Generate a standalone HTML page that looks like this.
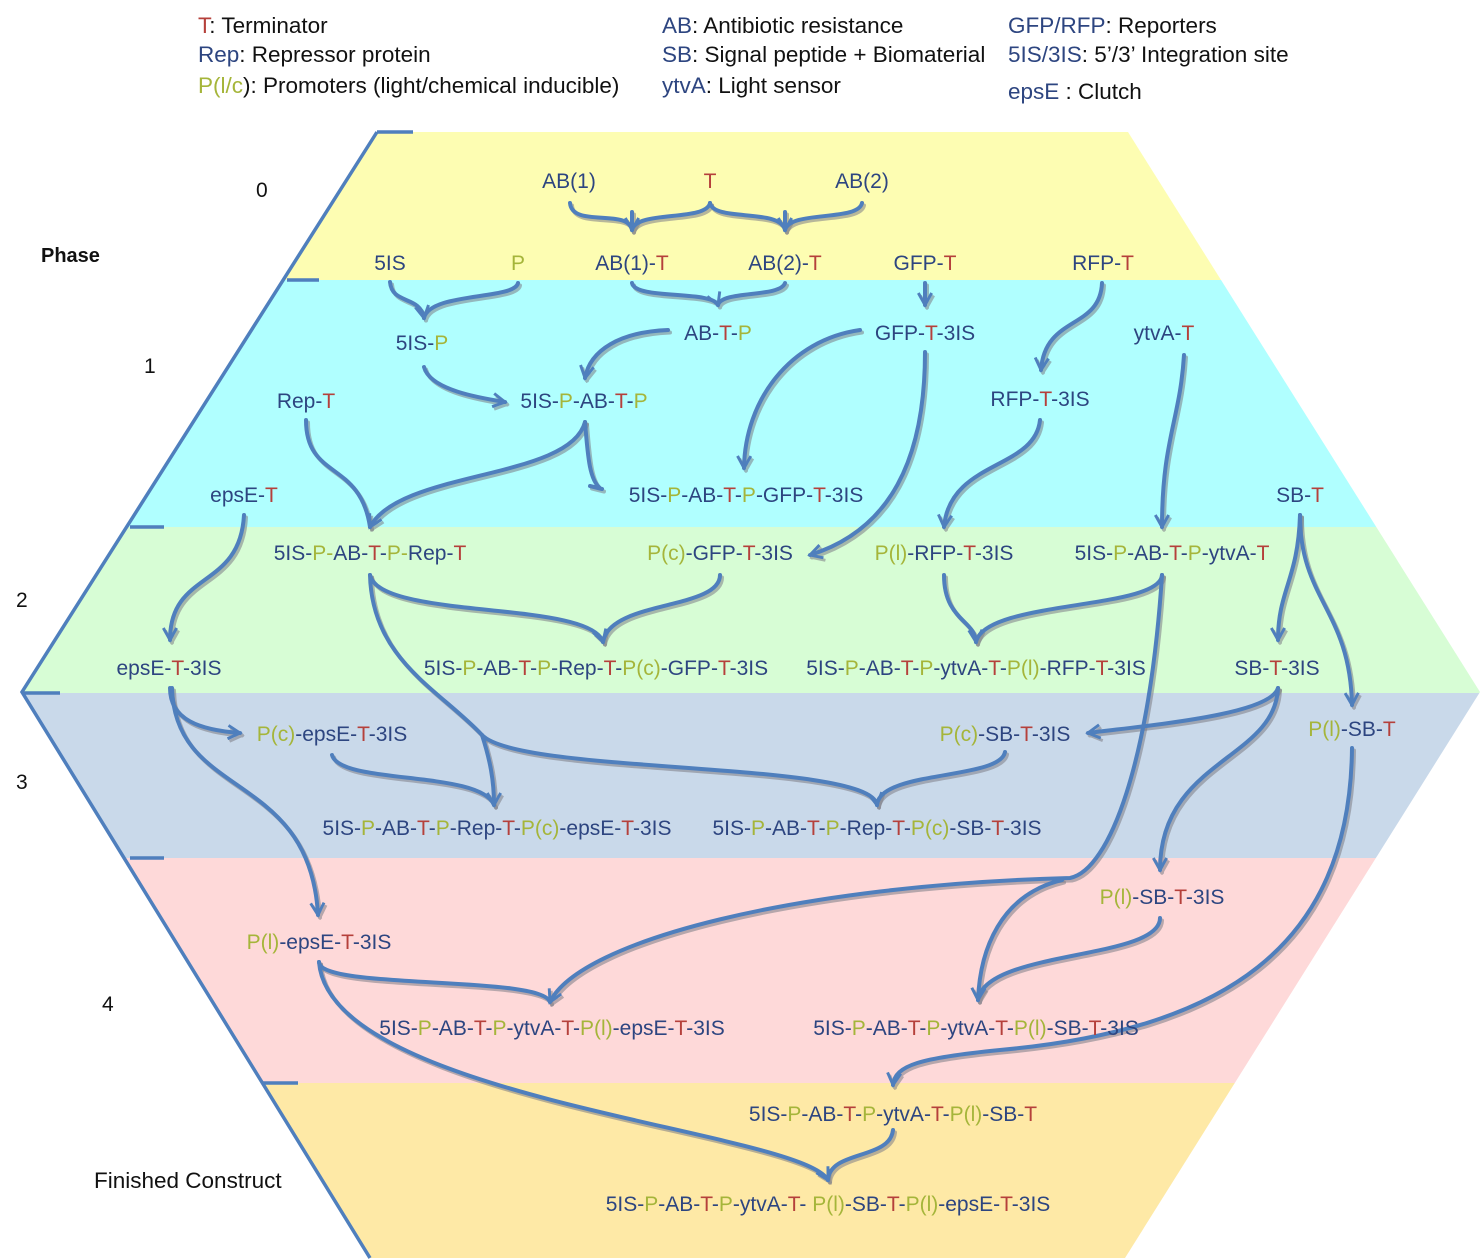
<!DOCTYPE html>
<html><head><meta charset="utf-8"><style>
html,body{margin:0;padding:0;background:#fff;}
svg{display:block;}
text{font-family:"Liberation Sans",sans-serif;font-size:21px;fill:#2d4580;}
.r{fill:#b5403b}.g{fill:#a5b53a}.k{fill:#111}
.lg text{font-size:22.5px}
.a{fill:none;stroke:#4f7fbd;stroke-width:4;stroke-linecap:round}
.s{fill:none;stroke:#7d7d86;stroke-width:4;stroke-linecap:round;opacity:.55}
</style></head><body>
<svg width="1482" height="1260" viewBox="0 0 1482 1260" xmlns="http://www.w3.org/2000/svg">
<defs>
<marker id="m" viewBox="0 0 12 12" refX="10" refY="6" markerWidth="4" markerHeight="4" orient="auto" markerUnits="strokeWidth">
<path d="M1,1 L10,6 L1,11" fill="none" stroke="#4f7fbd" stroke-width="2.2"/></marker>
<marker id="ms" viewBox="0 0 12 12" refX="10" refY="6" markerWidth="4" markerHeight="4" orient="auto" markerUnits="strokeWidth">
<path d="M1,1 L10,6 L1,11" fill="none" stroke="#7d7d86" stroke-width="2.2"/></marker>
<clipPath id="hex"><polygon points="377,132 1128,132 1480,692 1125,1258 370,1258 22,692"/></clipPath>
</defs>
<g clip-path="url(#hex)">
<rect x="0" y="132" width="1482" height="148" fill="#fdfdb2"/>
<rect x="0" y="280" width="1482" height="247" fill="#b0ffff"/>
<rect x="0" y="527" width="1482" height="166" fill="#d7fdd5"/>
<rect x="0" y="693" width="1482" height="165" fill="#c9d9ea"/>
<rect x="0" y="858" width="1482" height="225" fill="#fed9d9"/>
<rect x="0" y="1083" width="1482" height="177" fill="#fee9a6"/>
</g>
<g stroke="#4f7fbd" stroke-width="3.5" fill="none">
<polyline points="377,132 22,692 370,1258"/>
<line x1="377" y1="132" x2="413" y2="132"/>
<line x1="287" y1="280" x2="319" y2="280"/>
<line x1="130" y1="527" x2="164" y2="527"/>
<line x1="22" y1="693" x2="60" y2="693"/>
<line x1="130" y1="858" x2="164" y2="858"/>
<line x1="262" y1="1083" x2="298" y2="1083"/>
</g>

<g class="lg">
<text x="198" y="33"><tspan class="r">T</tspan><tspan class="k">: Terminator</tspan></text>
<text x="198" y="62">Rep<tspan class="k">: Repressor protein</tspan></text>
<text x="198" y="93"><tspan class="g">P(</tspan><tspan class="g">l/c</tspan><tspan class="k">): Promoters (light/chemical inducible)</tspan></text>
<text x="662" y="33">AB<tspan class="k">: Antibiotic resistance</tspan></text>
<text x="662" y="62">SB<tspan class="k">: Signal peptide + Biomaterial</tspan></text>
<text x="662" y="93">ytvA<tspan class="k">: Light sensor</tspan></text>
<text x="1008" y="33">GFP/RFP<tspan class="k">: Reporters</tspan></text>
<text x="1008" y="62">5IS/3IS<tspan class="k">: 5’/3’ Integration site</tspan></text>
<text x="1008" y="99">epsE <tspan class="k">: Clutch</tspan></text>
</g>

<g>
<text x="256" y="197" class="k" style="font-size:21px">0</text>
<text x="41" y="262" class="k" style="font-weight:bold;font-size:20px">Phase</text>
<text x="144" y="373" class="k">1</text>
<text x="16" y="607" class="k">2</text>
<text x="16" y="789" class="k">3</text>
<text x="102" y="1011" class="k">4</text>
<text x="94" y="1188" class="k" style="font-size:22.5px">Finished Construct</text>
</g>

<g transform="translate(2,2.5)">
<path class="s" d="M570,203 C572,228 628,208 632,230 M710,203 C706,222 636,210 632,230"/>
<path class="s" marker-end="url(#ms)" d="M632,212 L632,230"/>
<path class="s" d="M710,203 C714,222 780,208 785,230 M862,203 C858,222 790,210 785,230"/>
<path class="s" marker-end="url(#ms)" d="M785,212 L785,230"/>
<path class="s" d="M390,282 C392,305 420,295 424,318 M518,283 C515,300 430,292 424,318"/>
<path class="s" d="M632,283 C635,300 712,290 718,305 M785,283 C780,298 722,290 718,305"/>
<path class="s" marker-end="url(#ms)" d="M925,283 L925,305"/>
<path class="s" marker-end="url(#ms)" d="M1102,283 C1100,330 1045,315 1041,370"/>
<path class="s" marker-end="url(#ms)" d="M668,330 C620,332 590,350 585,378"/>
<path class="s" marker-end="url(#ms)" d="M424,367 C430,390 480,398 505,402"/>
<path class="s" marker-end="url(#ms)" d="M860,330 C790,340 745,400 744,468"/>
<path class="s" marker-end="url(#ms)" d="M925,352 C925,460 890,530 810,555"/>
<path class="s" marker-end="url(#ms)" d="M585,422 C570,480 400,470 370,527"/>
<path class="s" d="M306,420 C306,480 360,460 370,527"/>
<path class="s" d="M585,422 C588,460 590,480 600,488 M590,486 L602,489"/>
<path class="s" marker-end="url(#ms)" d="M1040,420 C1035,470 950,460 944,527"/>
<path class="s" marker-end="url(#ms)" d="M1184,355 C1180,420 1162,440 1162,527"/>
<path class="s" marker-end="url(#ms)" d="M1300,515 C1298,580 1278,590 1278,640"/>
<path class="s" marker-end="url(#ms)" d="M1300,515 C1300,600 1350,610 1352,705"/>
<path class="s" marker-end="url(#ms)" d="M244,515 C240,590 170,570 170,640"/>
<path class="s" marker-end="url(#ms)" d="M370,575 C380,620 590,600 603,642"/>
<path class="s" d="M720,575 C720,610 610,600 603,642"/>
<path class="s" marker-end="url(#ms)" d="M944,575 C944,620 975,620 976,642"/>
<path class="s" d="M1162,575 C1160,610 985,600 976,642"/>
<path class="s" marker-end="url(#ms)" d="M170,688 C170,720 200,730 240,733"/>
<path class="s" marker-end="url(#ms)" d="M172,688 C175,800 310,770 318,915"/>
<path class="s" d="M370,575 C372,660 440,690 482,735"/>
<path class="s" marker-end="url(#ms)" d="M482,735 C490,760 494,780 494,805"/>
<path class="s" d="M332,755 C340,785 480,770 494,805"/>
<path class="s" marker-end="url(#ms)" d="M482,735 C520,775 870,760 877,805"/>
<path class="s" d="M1005,752 C1000,780 880,770 877,805"/>
<path class="s" marker-end="url(#ms)" d="M1278,688 C1270,715 1150,725 1088,733"/>
<path class="s" marker-end="url(#ms)" d="M1278,688 C1275,760 1160,760 1160,870"/>
<path class="s" marker-end="url(#ms)" d="M1162,575 C1150,760 1110,870 1070,878 C800,885 580,940 550,1002"/>
<path class="s" marker-end="url(#ms)" d="M1062,880 C1000,895 980,950 978,1000"/>
<path class="s" d="M1160,918 C1160,960 985,950 978,1000"/>
<path class="s" d="M319,962 C320,990 540,975 550,1002"/>
<path class="s" marker-end="url(#ms)" d="M1352,748 C1350,950 1220,1030 1000,1050 C920,1058 895,1065 893,1085"/>
<path class="s" marker-end="url(#ms)" d="M319,962 C330,1100 800,1130 828,1180"/>
<path class="s" d="M893,1130 C890,1160 830,1150 828,1180"/>
</g>
<g>
<path class="a" d="M570,203 C572,228 628,208 632,230 M710,203 C706,222 636,210 632,230"/>
<path class="a" marker-end="url(#m)" d="M632,212 L632,230"/>
<path class="a" d="M710,203 C714,222 780,208 785,230 M862,203 C858,222 790,210 785,230"/>
<path class="a" marker-end="url(#m)" d="M785,212 L785,230"/>
<path class="a" marker-end="url(#m)" d="M390,282 C392,305 420,295 424,318"/>
<path class="a" d="M518,283 C515,300 430,292 424,318"/>
<path class="a" marker-end="url(#m)" d="M632,283 C635,300 712,290 718,305"/>
<path class="a" d="M785,283 C780,298 722,290 718,305"/>
<path class="a" marker-end="url(#m)" d="M925,283 L925,305"/>
<path class="a" marker-end="url(#m)" d="M1102,283 C1100,330 1045,315 1041,370"/>
<path class="a" marker-end="url(#m)" d="M668,330 C620,332 590,350 585,378"/>
<path class="a" marker-end="url(#m)" d="M424,367 C430,390 480,398 505,402"/>
<path class="a" marker-end="url(#m)" d="M860,330 C790,340 745,400 744,468"/>
<path class="a" marker-end="url(#m)" d="M925,352 C925,460 890,530 810,555"/>
<path class="a" marker-end="url(#m)" d="M585,422 C570,480 400,470 370,527"/>
<path class="a" d="M306,420 C306,480 360,460 370,527"/>
<path class="a" d="M585,422 C588,460 590,480 600,488 M590,486 L602,489"/>
<path class="a" marker-end="url(#m)" d="M1040,420 C1035,470 950,460 944,527"/>
<path class="a" marker-end="url(#m)" d="M1184,355 C1180,420 1162,440 1162,527"/>
<path class="a" marker-end="url(#m)" d="M1300,515 C1298,580 1278,590 1278,640"/>
<path class="a" marker-end="url(#m)" d="M1300,515 C1300,600 1350,610 1352,705"/>
<path class="a" marker-end="url(#m)" d="M244,515 C240,590 170,570 170,640"/>
<path class="a" marker-end="url(#m)" d="M370,575 C380,620 590,600 603,642"/>
<path class="a" d="M720,575 C720,610 610,600 603,642"/>
<path class="a" marker-end="url(#m)" d="M944,575 C944,620 975,620 976,642"/>
<path class="a" d="M1162,575 C1160,610 985,600 976,642"/>
<path class="a" marker-end="url(#m)" d="M170,688 C170,720 200,730 240,733"/>
<path class="a" marker-end="url(#m)" d="M172,688 C175,800 310,770 318,915"/>
<path class="a" d="M370,575 C372,660 440,690 482,735"/>
<path class="a" marker-end="url(#m)" d="M482,735 C490,760 494,780 494,805"/>
<path class="a" d="M332,755 C340,785 480,770 494,805"/>
<path class="a" marker-end="url(#m)" d="M482,735 C520,775 870,760 877,805"/>
<path class="a" d="M1005,752 C1000,780 880,770 877,805"/>
<path class="a" marker-end="url(#m)" d="M1278,688 C1270,715 1150,725 1088,733"/>
<path class="a" marker-end="url(#m)" d="M1278,688 C1275,760 1160,760 1160,870"/>
<path class="a" marker-end="url(#m)" d="M1162,575 C1150,760 1110,870 1070,878 C800,885 580,940 550,1002"/>
<path class="a" marker-end="url(#m)" d="M1062,880 C1000,895 980,950 978,1000"/>
<path class="a" d="M1160,918 C1160,960 985,950 978,1000"/>
<path class="a" d="M319,962 C320,990 540,975 550,1002"/>
<path class="a" marker-end="url(#m)" d="M1352,748 C1350,950 1220,1030 1000,1050 C920,1058 895,1065 893,1085"/>
<path class="a" marker-end="url(#m)" d="M319,962 C330,1100 800,1130 828,1180"/>
<path class="a" d="M893,1130 C890,1160 830,1150 828,1180"/>
</g>

<g text-anchor="middle">
<text x="569" y="188">AB(1)</text>
<text x="710" y="188" class="r">T</text>
<text x="862" y="188">AB(2)</text>
<text x="390" y="270">5IS</text>
<text x="518" y="270" class="g">P</text>
<text x="632" y="270">AB(1)-<tspan class="r">T</tspan></text>
<text x="785" y="270">AB(2)-<tspan class="r">T</tspan></text>
<text x="925" y="270">GFP-<tspan class="r">T</tspan></text>
<text x="1103" y="270">RFP-<tspan class="r">T</tspan></text>

<text x="422" y="350">5IS-<tspan class="g">P</tspan></text>
<text x="718" y="340">AB-<tspan class="r">T</tspan>-<tspan class="g">P</tspan></text>
<text x="925" y="340">GFP-<tspan class="r">T</tspan>-3IS</text>
<text x="1164" y="340">ytvA-<tspan class="r">T</tspan></text>
<text x="1040" y="406">RFP-<tspan class="r">T</tspan>-3IS</text>
<text x="584" y="408">5IS-<tspan class="g">P</tspan>-AB-<tspan class="r">T</tspan>-<tspan class="g">P</tspan></text>
<text x="306" y="408">Rep-<tspan class="r">T</tspan></text>
<text x="746" y="502">5IS-<tspan class="g">P</tspan>-AB-<tspan class="r">T</tspan>-<tspan class="g">P</tspan>-GFP-<tspan class="r">T</tspan>-3IS</text>
<text x="244" y="502">epsE-<tspan class="r">T</tspan></text>
<text x="1300" y="502">SB-<tspan class="r">T</tspan></text>

<text x="370" y="560">5IS-<tspan class="g">P-</tspan>AB-<tspan class="r">T</tspan>-<tspan class="g">P-</tspan>Rep-<tspan class="r">T</tspan></text>
<text x="720" y="560"><tspan class="g">P(c)</tspan>-GFP-<tspan class="r">T</tspan>-3IS</text>
<text x="944" y="560"><tspan class="g">P(l)</tspan>-RFP-<tspan class="r">T</tspan>-3IS</text>
<text x="1172" y="560">5IS-<tspan class="g">P</tspan>-AB-<tspan class="r">T</tspan>-<tspan class="g">P</tspan>-ytvA-<tspan class="r">T</tspan></text>
<text x="169" y="675">epsE-<tspan class="r">T</tspan>-3IS</text>
<text x="596" y="675">5IS-<tspan class="g">P</tspan>-AB-<tspan class="r">T</tspan>-<tspan class="g">P</tspan>-Rep-<tspan class="r">T</tspan>-<tspan class="g">P(c)</tspan>-GFP-<tspan class="r">T</tspan>-3IS</text>
<text x="976" y="675">5IS-<tspan class="g">P</tspan>-AB-<tspan class="r">T</tspan>-<tspan class="g">P</tspan>-ytvA-<tspan class="r">T</tspan>-<tspan class="g">P(l)</tspan>-RFP-<tspan class="r">T</tspan>-3IS</text>
<text x="1277" y="675">SB-<tspan class="r">T</tspan>-3IS</text>

<text x="332" y="741"><tspan class="g">P(c)</tspan>-epsE-<tspan class="r">T</tspan>-3IS</text>
<text x="1005" y="741"><tspan class="g">P(c)</tspan>-SB-<tspan class="r">T</tspan>-3IS</text>
<text x="1352" y="736"><tspan class="g">P(l)</tspan>-SB-<tspan class="r">T</tspan></text>
<text x="497" y="835">5IS-<tspan class="g">P</tspan>-AB-<tspan class="r">T</tspan>-<tspan class="g">P</tspan>-Rep-<tspan class="r">T</tspan>-<tspan class="g">P(c)</tspan>-epsE-<tspan class="r">T</tspan>-3IS</text>
<text x="877" y="835">5IS-<tspan class="g">P</tspan>-AB-<tspan class="r">T</tspan>-<tspan class="g">P</tspan>-Rep-<tspan class="r">T</tspan>-<tspan class="g">P(c)</tspan>-SB-<tspan class="r">T</tspan>-3IS</text>

<text x="1162" y="904"><tspan class="g">P(l)</tspan>-SB-<tspan class="r">T</tspan>-3IS</text>
<text x="319" y="949"><tspan class="g">P(l)</tspan>-epsE-<tspan class="r">T</tspan>-3IS</text>
<text x="552" y="1035">5IS-<tspan class="g">P</tspan>-AB-<tspan class="r">T</tspan>-<tspan class="g">P</tspan>-ytvA-<tspan class="r">T</tspan>-<tspan class="g">P(l)</tspan>-epsE-<tspan class="r">T</tspan>-3IS</text>
<text x="976" y="1035">5IS-<tspan class="g">P</tspan>-AB-<tspan class="r">T</tspan>-<tspan class="g">P</tspan>-ytvA-<tspan class="r">T</tspan>-<tspan class="g">P(l)</tspan>-SB-<tspan class="r">T</tspan>-3IS</text>

<text x="893" y="1121">5IS-<tspan class="g">P</tspan>-AB-<tspan class="r">T</tspan>-<tspan class="g">P</tspan>-ytvA-<tspan class="r">T</tspan>-<tspan class="g">P(l)</tspan>-SB-<tspan class="r">T</tspan></text>
<text x="828" y="1211">5IS-<tspan class="g">P</tspan>-AB-<tspan class="r">T</tspan>-<tspan class="g">P</tspan>-ytvA-<tspan class="r">T</tspan>- <tspan class="g">P(l)</tspan>-SB-<tspan class="r">T</tspan>-<tspan class="g">P(l)</tspan>-epsE-<tspan class="r">T</tspan>-3IS</text>
</g>
</svg>
</body></html>
